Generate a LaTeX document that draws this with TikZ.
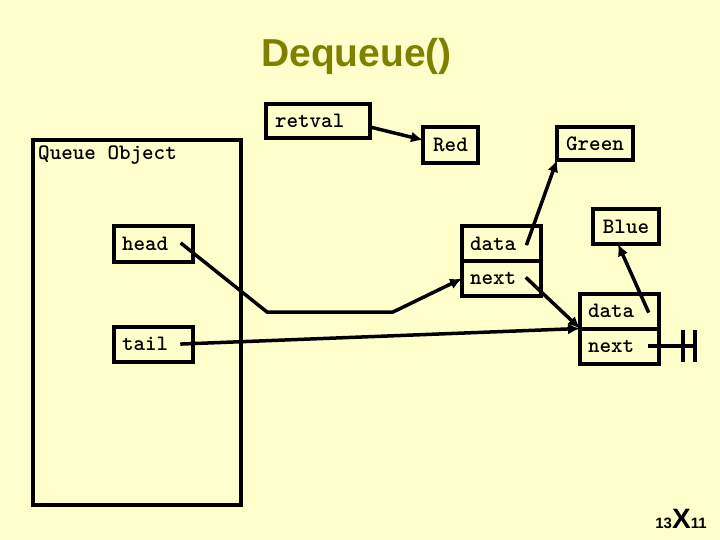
\documentclass[tikz,border=0pt]{standalone}
\usepackage{fontspec}
\setsansfont{Liberation Sans}
\usepackage{tikz}
\usetikzlibrary{arrows.meta, calc, positioning}
\usepackage{xcolor}
\definecolor{bgyellow}{RGB}{255,255,204}
\definecolor{titleolive}{RGB}{128,128,0}

\begin{document}
\begin{tikzpicture}[x=1pt, y=-1pt,
    box/.style={draw, line width=4pt, inner sep=0pt, outer sep=0pt,
        font=\ttfamily\bfseries\fontsize{22}{24}\selectfont},
    cell/.style={box, minimum width=79pt, minimum height=35pt,
        inner xsep=8pt, text width=63pt, align=left},
    ptr/.style={line width=3.5pt, line cap=rect, -{Latex[length=12pt, width=11pt]}},
    nilbar/.style={line width=3.5pt}]
    % 背景
    \useasboundingbox (0,0) rectangle (720,540);
    \fill[bgyellow] (0,0) rectangle (720,540);

    % 标题
    \node[titleolive, anchor=base, font=\sffamily\bfseries\fontsize{39}{41}\selectfont]
        (title) at (356.5,67) {Dequeue()};

    % 队列对象
    \node[box, minimum width=208pt, minimum height=365pt, anchor=north west]
        (qobj) at (33,140) {};
    \node[anchor=base west, inner sep=0pt, font=\ttfamily\bfseries\fontsize{22}{24}\selectfont]
        (qlabel) at (38,160) {Queue Object};
    \node[cell] (head) at (153.5,244) {head};
    \node[cell] (tail) at (153.5,344) {tail};

    % 返回值与数据
    \node[box, minimum width=104pt, minimum height=34pt, inner xsep=9pt,
        text width=86pt, align=left] (retval) at (318,121) {retval};
    \node[box, minimum width=55pt, minimum height=36pt] (red) at (450.5,145) {Red};
    \node[box, minimum width=76pt, minimum height=33pt] (green) at (595,143.5) {Green};
    \node[box, minimum width=66pt, minimum height=35pt] (blue) at (626,226.5) {Blue};

    % 链表结点
    \node[cell] (n1data) at (501.5,243.5) {data};
    \node[cell, below=0pt of n1data] (n1next) {next};
    \node[cell] (n2data) at (619.5,311) {data};
    \node[cell, below=0pt of n2data] (n2next) {next};

    % 指针起点
    \coordinate (hdot) at ([xshift=-11pt]head.east);
    \coordinate (tdot) at ([xshift=-11pt]tail.east);
    \coordinate (d1dot) at ([xshift=-14pt]n1data.east);
    \coordinate (x1dot) at ([xshift=-14pt]n1next.east);
    \coordinate (d2dot) at ([xshift=-11pt]n2data.east);
    \coordinate (x2dot) at ([xshift=-11pt]n2next.east);

    % 指针
    \draw[ptr] ([yshift=-6pt]retval.east) -- ([yshift=5pt]red.west);
    \draw[ptr] (hdot) -- (267,312) -- (393,312) -- (n1next.west);
    \draw[ptr] (tdot) -- (n2data.south west);
    \draw[ptr] (d1dot) -- (green.south west);
    \draw[ptr] (x1dot) -- (n2data.south west);
    \draw[ptr] (d2dot) -- ([xshift=-8pt]blue.south);

    % 空指针
    \draw[nilbar] (x2dot) -- ++(47,0) coordinate (nil);
    \draw[nilbar] ([yshift=16pt]nil) -- ([yshift=-16pt]nil);
    \draw[nilbar] ([shift={(-12pt,16pt)}]nil) -- ([shift={(-12pt,-16pt)}]nil);

    % 页码
    \node[anchor=base, inner sep=0pt, font=\sffamily\bfseries\fontsize{28}{28}\selectfont]
        (pgno) at (681,528) {{\fontsize{15}{15}\selectfont 13}X{\fontsize{15}{15}\selectfont 11}};
\end{tikzpicture}
\end{document}
